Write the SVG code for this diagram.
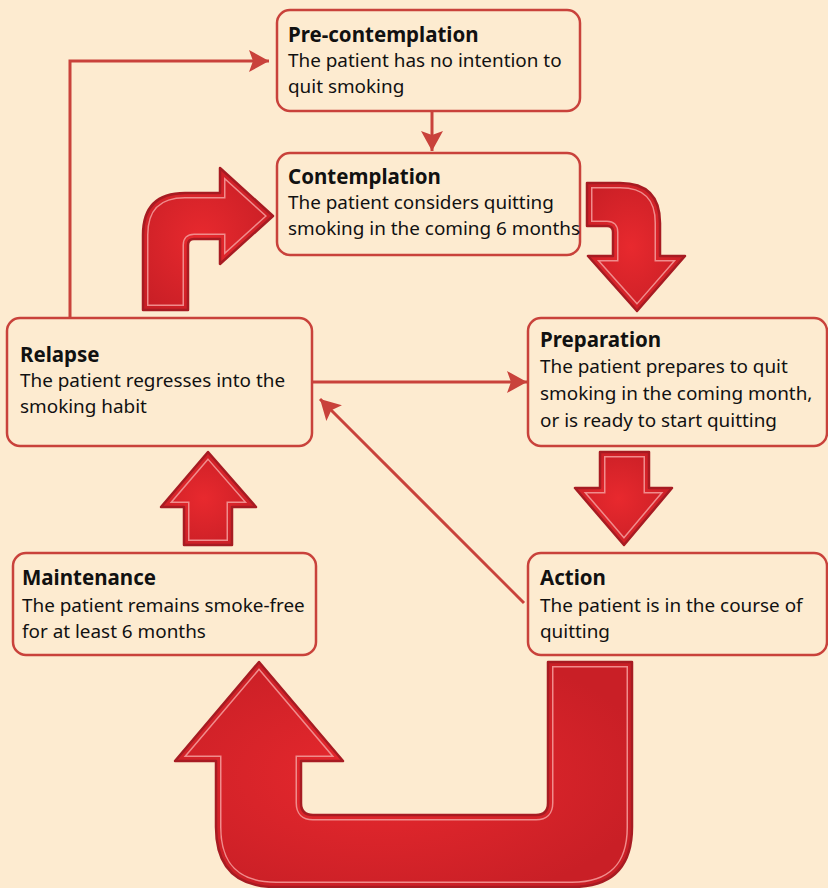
<svg xmlns="http://www.w3.org/2000/svg" xmlns:xlink="http://www.w3.org/1999/xlink" width="828" height="888" viewBox="0 0 828 888">
<style>
.box{fill:#FDEBD0;stroke:#C9423B;stroke-width:2.5}
.t{font-family:"Noto Sans","Liberation Sans",sans-serif;font-size:18.9px;fill:#111}
.b{font-weight:bold;font-size:20.5px}
.ln{fill:none;stroke:#C9423B;stroke-width:3;marker-end:url(#ah)}
.bf{fill:url(#rg);stroke:#F08C8C;stroke-width:11}
.bi{fill:none;stroke:url(#rg);stroke-width:8}
.bo{fill:none;stroke:#A71B22;stroke-width:2.5;stroke-linejoin:round}
</style>
<defs>
<radialGradient id="rg" cx="0.45" cy="0.5" r="0.6">
<stop offset="0" stop-color="#E8292E"/>
<stop offset="1" stop-color="#C91F26"/>
</radialGradient>
<marker id="ah" markerUnits="userSpaceOnUse" markerWidth="22" markerHeight="24" refX="20" refY="11" orient="auto">
<path d="M0,0 L20,11 L0,22 L4,11 Z" fill="#C9423B"/>
</marker>
<path id="a1" d="M143,310 L143,235 Q143,193 185,193 L220,193 L220,168 L273,216 L220,264 L220,239 L194,239 Q188,239 188,245 L188,310 Z"/>
<path id="a2" d="M587,183 L620,183 Q660,183 660,223 L660,256 L685,256 L637,311 L588,256 L613,256 L613,232 Q613,226 607,226 L587,226 Z"/>
<path id="a3" d="M600,452 L649,452 L649,488 L672,488 L624,545 L575,488 L600,488 Z"/>
<path id="a4" d="M208,452 L256,507 L232,507 L232,545 L184,545 L184,507 L161,507 Z"/>
<path id="a5" d="M259,662 L343,761 L301,761 L301,803 Q301,815 313,815 L536,815 Q548,815 548,803 L548,662 L632,662 L632,827 Q632,887 572,887 L276,887 Q216,887 216,827 L216,761 L175,761 Z"/>
<clipPath id="c1"><use xlink:href="#a1"/></clipPath>
<clipPath id="c2"><use xlink:href="#a2"/></clipPath>
<clipPath id="c3"><use xlink:href="#a3"/></clipPath>
<clipPath id="c4"><use xlink:href="#a4"/></clipPath>
<clipPath id="c5"><use xlink:href="#a5"/></clipPath>
</defs>
<rect width="828" height="888" fill="#FDEBD0"/>

<g id="connectors">
<path class="ln" d="M432,111 L432,151"/>
<path class="ln" d="M70,318 L70,61 L269,61"/>
<path class="ln" d="M312,382 L527,382"/>
<path class="ln" d="M524,603 L320,399"/>
<g id="big-arrow-1"><g clip-path="url(#c1)"><use xlink:href="#a1" class="bf"/><use xlink:href="#a1" class="bi"/></g><use xlink:href="#a1" class="bo"/></g>
<g id="big-arrow-2"><g clip-path="url(#c2)"><use xlink:href="#a2" class="bf"/><use xlink:href="#a2" class="bi"/></g><use xlink:href="#a2" class="bo"/></g>
<g id="big-arrow-3"><g clip-path="url(#c3)"><use xlink:href="#a3" class="bf"/><use xlink:href="#a3" class="bi"/></g><use xlink:href="#a3" class="bo"/></g>
<g id="big-arrow-4"><g clip-path="url(#c4)"><use xlink:href="#a4" class="bf"/><use xlink:href="#a4" class="bi"/></g><use xlink:href="#a4" class="bo"/></g>
<g id="big-arrow-5"><g clip-path="url(#c5)"><use xlink:href="#a5" class="bf"/><use xlink:href="#a5" class="bi"/></g><use xlink:href="#a5" class="bo"/></g>
</g>

<g id="precontemplation">
<rect class="box" x="277" y="10" width="303" height="101" rx="13"/>
<text class="t b" x="288" y="42">Pre-contemplation</text>
<text class="t" x="288" y="67">The patient has no intention to</text>
<text class="t" x="288" y="93">quit smoking</text>
</g>
<g id="contemplation">
<rect class="box" x="277" y="153" width="303" height="102" rx="13"/>
<text class="t b" x="288" y="184">Contemplation</text>
<text class="t" x="288" y="209">The patient considers quitting</text>
<text class="t" x="288" y="235">smoking in the coming 6 months</text>
</g>
<g id="preparation">
<rect class="box" x="528" y="318" width="299" height="128" rx="13"/>
<text class="t b" x="540" y="347">Preparation</text>
<text class="t" x="540" y="373">The patient prepares to quit</text>
<text class="t" x="540" y="400">smoking in the coming month,</text>
<text class="t" x="540" y="427">or is ready to start quitting</text>
</g>
<g id="relapse">
<rect class="box" x="7" y="318" width="305" height="128" rx="13"/>
<text class="t b" x="20" y="362">Relapse</text>
<text class="t" x="20" y="387">The patient regresses into the</text>
<text class="t" x="20" y="413">smoking habit</text>
</g>
<g id="maintenance">
<rect class="box" x="13" y="553" width="303" height="102" rx="13"/>
<text class="t b" x="22" y="585">Maintenance</text>
<text class="t" x="22" y="612">The patient remains smoke-free</text>
<text class="t" x="22" y="638">for at least 6 months</text>
</g>
<g id="action">
<rect class="box" x="528" y="553" width="299" height="102" rx="13"/>
<text class="t b" x="540" y="585">Action</text>
<text class="t" x="540" y="612">The patient is in the course of</text>
<text class="t" x="540" y="638">quitting</text>
</g>
</svg>
